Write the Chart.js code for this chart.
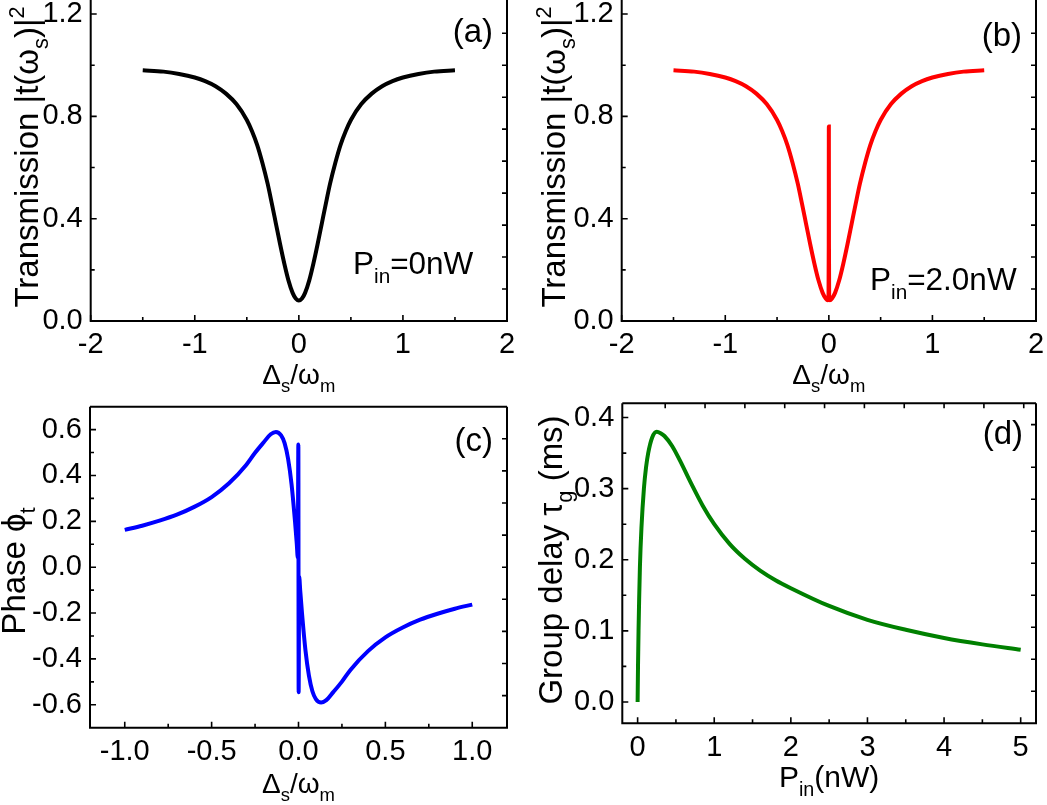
<!DOCTYPE html>
<html>
<head>
<meta charset="utf-8">
<script src="https://cdn.jsdelivr.net/npm/chart.js@4.4.1/dist/chart.umd.min.js"></script>
<style>
  html, body { margin: 0; padding: 0; background: #fff; }
  #wrap { position: relative; width: 1047px; height: 805px; }
  canvas { position: absolute; left: 0; top: 0; }
</style>
</head>
<body>
<div id="wrap">
  <canvas id="panelA" width="1047" height="805"></canvas>
  <canvas id="panelB" width="1047" height="805"></canvas>
  <canvas id="panelC" width="1047" height="805"></canvas>
  <canvas id="panelD" width="1047" height="805"></canvas>
</div>
<script>
const FONT = '"Liberation Sans", Arial, sans-serif';

// (a) transmission, P_in = 0 nW
const detuningA = [-1.5, -1.3, -1.15, -1.0, -0.9, -0.8, -0.7, -0.6, -0.5, -0.45, -0.4, -0.35, -0.3, -0.26, -0.22, -0.18, -0.14, -0.1, -0.06, -0.03, 0,
                   0.03, 0.06, 0.1, 0.14, 0.18, 0.22, 0.26, 0.3, 0.35, 0.4, 0.45, 0.5, 0.6, 0.7, 0.8, 0.9, 1.0, 1.15, 1.3, 1.5];
const transmissionA = [0.980, 0.975, 0.966, 0.952, 0.938, 0.918, 0.889, 0.848, 0.786, 0.742, 0.688, 0.618, 0.537, 0.460, 0.380, 0.300, 0.225, 0.159, 0.110, 0.088, 0.080,
                       0.088, 0.110, 0.159, 0.225, 0.300, 0.380, 0.460, 0.537, 0.618, 0.688, 0.742, 0.786, 0.848, 0.889, 0.918, 0.938, 0.952, 0.966, 0.975, 0.980];

// (b) transmission, P_in = 2.0 nW (narrow transparency window at zero detuning)
const detuningB = [-1.5, -1.3, -1.15, -1.0, -0.9, -0.8, -0.7, -0.6, -0.5, -0.45, -0.4, -0.35, -0.3, -0.26, -0.22, -0.18, -0.14, -0.1, -0.06, -0.03, -0.01, -0.003, -0.001, 0,
                   0.001, 0.003, 0.01, 0.03, 0.06, 0.1, 0.14, 0.18, 0.22, 0.26, 0.3, 0.35, 0.4, 0.45, 0.5, 0.6, 0.7, 0.8, 0.9, 1.0, 1.15, 1.3, 1.5];
const transmissionB = [0.980, 0.975, 0.966, 0.952, 0.938, 0.918, 0.889, 0.848, 0.786, 0.742, 0.688, 0.618, 0.537, 0.460, 0.380, 0.300, 0.225, 0.159, 0.110, 0.088, 0.081, 0.100, 0.300, 0.760,
                       0.300, 0.100, 0.081, 0.088, 0.110, 0.159, 0.225, 0.300, 0.380, 0.460, 0.537, 0.618, 0.688, 0.742, 0.786, 0.848, 0.889, 0.918, 0.938, 0.952, 0.966, 0.975, 0.980];

// (c) phase
const detuningC = [-1.0, -0.9, -0.8, -0.7, -0.6, -0.5, -0.4, -0.3, -0.25, -0.2, -0.16, -0.13, -0.1, -0.08, -0.06, -0.04, -0.02, -0.01, -0.004, -0.0008,
                   0.0008, 0.004, 0.01, 0.02, 0.04, 0.06, 0.08, 0.1, 0.13, 0.16, 0.2, 0.25, 0.3, 0.4, 0.5, 0.6, 0.7, 0.8, 0.9, 1.0];
const phaseC = [0.163, 0.181, 0.203, 0.229, 0.263, 0.306, 0.366, 0.447, 0.499, 0.545, 0.580, 0.590, 0.575, 0.541, 0.473, 0.362, 0.199, 0.103, 0.042, 0.535,
                -0.545, -0.042, -0.103, -0.199, -0.362, -0.473, -0.541, -0.575, -0.590, -0.580, -0.545, -0.499, -0.447, -0.366, -0.306, -0.263, -0.229, -0.203, -0.181, -0.163];

// (d) group delay vs input power
const powerD = [0, 0.005, 0.012, 0.02, 0.03, 0.05, 0.082, 0.11, 0.138, 0.19, 0.25, 0.3, 0.35, 0.45, 0.55, 0.7, 0.85, 1.0, 1.2, 1.4, 1.6, 1.8, 2.0, 2.5, 3.0, 3.5, 4.0, 4.5, 5.0];
const delayD = [0, 0.05, 0.1, 0.145, 0.19, 0.245, 0.3, 0.33, 0.35, 0.372, 0.38, 0.378, 0.374, 0.36, 0.34, 0.307, 0.276, 0.25, 0.2223, 0.2013, 0.1847, 0.1712, 0.160, 0.135, 0.1155, 0.1015, 0.090, 0.081, 0.0734];

// ticks
const xMajorAB = [-2, -1, 0, 1, 2];
const xMinorAB = [-1.5, -0.5, 0.5, 1.5];
const yMajorAB = [0, 0.4, 0.8, 1.2];
const yMinorAB = [0.2, 0.6, 1.0];
const rightTicksAB = [0.125, 0.25, 0.375, 0.5, 0.625, 0.75, 0.875, 1.0, 1.125];

const xMajorC = [-1, -0.5, 0, 0.5, 1];
const xMinorC = [-0.75, -0.25, 0.25, 0.75];
const yMajorC = [-0.6, -0.4, -0.2, 0, 0.2, 0.4, 0.6];
const yMinorC = [-0.5, -0.3, -0.1, 0.1, 0.3, 0.5];
const rightTicksC = [-0.56, -0.42, -0.28, -0.14, 0, 0.14, 0.28, 0.42, 0.56];

const xMajorD = [0, 1, 2, 3, 4, 5];
const xMinorD = [0.5, 1.5, 2.5, 3.5, 4.5];
const yMajorD = [0, 0.1, 0.2, 0.3, 0.4];
const yMinorD = [0.05, 0.15, 0.25, 0.35];
const rightTicksD = [0.015, 0.06, 0.105, 0.15, 0.195, 0.24, 0.285, 0.33, 0.39];
const topTicksD = [0.36, 0.88, 1.40, 1.92, 2.44, 2.96, 3.48, 4.0, 4.52, 5.04];

const Y_BOX = 80, X_BOX = 60;

// text with sub/superscripts, centred on (cx, baseline cy), optionally rotated
function drawRich(ctx, parts, cx, cy, rot, size, align) {
  ctx.save();
  ctx.translate(cx, cy);
  ctx.rotate(rot);
  ctx.fillStyle = '#000';
  ctx.textBaseline = 'alphabetic';
  ctx.textAlign = 'left';
  const small = size * 0.66;
  let total = 0;
  for (const p of parts) {
    ctx.font = (p.sub || p.sup ? small : size) + 'px ' + FONT;
    total += ctx.measureText(p.t).width;
  }
  let x = align === 'left' ? 0 : -total / 2;
  for (const p of parts) {
    ctx.font = (p.sub || p.sup ? small : size) + 'px ' + FONT;
    const dy = p.sub ? size * 0.3 : (p.sup ? -size * 0.42 : 0);
    ctx.fillText(p.t, x, dy);
    x += ctx.measureText(p.t).width;
  }
  ctx.restore();
}

function framePlugin(p) {
  return {
    id: 'frame',
    afterDraw(chart) {
      const { ctx, chartArea: a } = chart;
      const xs = chart.scales.x, ys = chart.scales.y;
      ctx.save();
      ctx.strokeStyle = '#000';
      ctx.lineWidth = 2;
      ctx.beginPath();
      if (p.topLine) { ctx.moveTo(a.left, a.top); ctx.lineTo(a.right, a.top); }
      ctx.moveTo(a.left, a.top); ctx.lineTo(a.left, a.bottom);
      ctx.lineTo(a.right, a.bottom); ctx.lineTo(a.right, a.top);
      ctx.stroke();
      ctx.lineWidth = 1.6;
      ctx.beginPath();
      const tick = (vals, len, fn) => vals.forEach(v => fn(v, len));
      tick(p.xMajor, 6, (v, l) => { const px = xs.getPixelForValue(v); ctx.moveTo(px, a.bottom); ctx.lineTo(px, a.bottom - l); });
      tick(p.xMinor, 4, (v, l) => { const px = xs.getPixelForValue(v); ctx.moveTo(px, a.bottom); ctx.lineTo(px, a.bottom - l); });
      tick(p.yMajor, 6, (v, l) => { const py = ys.getPixelForValue(v); ctx.moveTo(a.left, py); ctx.lineTo(a.left + l, py); });
      tick(p.yMinor, 4, (v, l) => { const py = ys.getPixelForValue(v); ctx.moveTo(a.left, py); ctx.lineTo(a.left + l, py); });
      tick(p.rightTicks, 5, (v, l) => { const py = ys.getPixelForValue(v); ctx.moveTo(a.right, py); ctx.lineTo(a.right - l, py); });
      tick(p.topTicks || [], 5, (v, l) => { const px = xs.getPixelForValue(v); ctx.moveTo(px, a.top); ctx.lineTo(px, a.top + l); });
      ctx.stroke();
      ctx.restore();

      drawRich(ctx, p.xTitle, (a.left + a.right) / 2, p.xTitleY, 0, p.xTitleSize);
      drawRich(ctx, p.yTitle, p.yTitleX, p.yTitleY, -Math.PI / 2, 33);
      ctx.save();
      ctx.font = '33px ' + FONT;
      ctx.fillStyle = '#000';
      ctx.textAlign = 'right';
      ctx.textBaseline = 'alphabetic';
      ctx.fillText(p.tag, p.tagX, p.tagY);
      ctx.restore();
      if (p.note) drawRich(ctx, p.note, p.noteX, p.noteY, 0, 31.5, 'left');
    }
  };
}

function makePanel(id, p) {
  const fmtX = p.xFmt, fmtY = p.yFmt;
  new Chart(document.getElementById(id), {
    type: 'line',
    data: {
      datasets: [{
        data: p.xs.map((x, i) => ({ x: x, y: p.ys[i] })),
        borderColor: p.color,
        borderWidth: 4,
        pointRadius: 0,
        fill: false,
        cubicInterpolationMode: 'monotone'
      }]
    },
    options: {
      responsive: false,
      animation: false,
      devicePixelRatio: 1,
      layout: {
        padding: { left: p.area.l - Y_BOX, top: p.area.t, right: 1047 - p.area.r, bottom: 805 - p.area.b - X_BOX }
      },
      plugins: { legend: { display: false }, tooltip: { enabled: false } },
      scales: {
        x: {
          type: 'linear', min: p.xMin, max: p.xMax,
          grid: { display: false, drawTicks: false },
          border: { display: false },
          afterBuildTicks: s => { s.ticks = p.xMajor.map(v => ({ value: v })); },
          afterFit: s => { s.height = X_BOX; s.paddingLeft = 0; s.paddingRight = 0; },
          ticks: {
            autoSkip: false, maxRotation: 0, padding: 7, color: '#000',
            font: { family: FONT, size: 29 },
            callback: v => fmtX(v)
          }
        },
        y: {
          type: 'linear', min: p.yMin, max: p.yMax,
          grid: { display: false, drawTicks: false },
          border: { display: false },
          afterBuildTicks: s => { s.ticks = p.yMajor.map(v => ({ value: v })); },
          afterFit: s => { s.width = Y_BOX; s.paddingTop = 0; s.paddingBottom = 0; },
          ticks: {
            padding: 8, color: '#000',
            font: { family: FONT, size: 29 },
            callback: v => fmtY(v)
          }
        }
      }
    },
    plugins: [framePlugin(p)]
  });
}

const deltaTitle = [{ t: '\u0394' }, { t: 's', sub: true }, { t: '/\u03c9' }, { t: 'm', sub: true }];
const transTitle = [{ t: 'Transmission |t(\u03c9' }, { t: 's', sub: true }, { t: ')|' }, { t: '2', sup: true }];

makePanel('panelA', {
  xs: detuningA, ys: transmissionA, color: '#000000',
  area: { l: 90.7, t: 0, r: 507, b: 321 },
  xMin: -2, xMax: 2, yMin: 0, yMax: 1.255,
  xMajor: xMajorAB, xMinor: xMinorAB, yMajor: yMajorAB, yMinor: yMinorAB, rightTicks: rightTicksAB,
  xFmt: v => v.toFixed(0), yFmt: v => v.toFixed(1),
  xTitle: deltaTitle, xTitleY: 384, xTitleSize: 28,
  yTitle: transTitle, yTitleX: 38, yTitleY: 157,
  tag: '(a)', tagX: 493, tagY: 42,
  note: [{ t: 'P' }, { t: 'in', sub: true }, { t: '=0nW' }], noteX: 353, noteY: 274
});

makePanel('panelB', {
  xs: detuningB, ys: transmissionB, color: '#ff0000',
  area: { l: 621.7, t: 0, r: 1036, b: 321 },
  xMin: -2, xMax: 2, yMin: 0, yMax: 1.255,
  xMajor: xMajorAB, xMinor: xMinorAB, yMajor: yMajorAB, yMinor: yMinorAB, rightTicks: rightTicksAB,
  xFmt: v => v.toFixed(0), yFmt: v => v.toFixed(1),
  xTitle: deltaTitle, xTitleY: 384, xTitleSize: 28,
  yTitle: transTitle, yTitleX: 565, yTitleY: 157,
  tag: '(b)', tagX: 1022, tagY: 46,
  note: [{ t: 'P' }, { t: 'in', sub: true }, { t: '=2.0nW' }], noteX: 870, noteY: 290
});

makePanel('panelC', {
  xs: detuningC, ys: phaseC, color: '#0000ff',
  area: { l: 90, t: 406.7, r: 507, b: 727.7 },
  xMin: -1.2, xMax: 1.2, yMin: -0.7, yMax: 0.7,
  xMajor: xMajorC, xMinor: xMinorC, yMajor: yMajorC, yMinor: yMinorC, rightTicks: rightTicksC,
  topLine: true,
  xFmt: v => v.toFixed(1), yFmt: v => v.toFixed(1),
  xTitle: deltaTitle, xTitleY: 793, xTitleSize: 28,
  yTitle: [{ t: 'Phase \u03d5' }, { t: 't', sub: true }], yTitleX: 25, yTitleY: 571,
  tag: '(c)', tagX: 493, tagY: 451
});

makePanel('panelD', {
  xs: powerD, ys: delayD, color: '#008000',
  area: { l: 622.3, t: 403.3, r: 1036, b: 723.3 },
  xMin: -0.2, xMax: 5.2, yMin: -0.03, yMax: 0.42,
  xMajor: xMajorD, xMinor: xMinorD, yMajor: yMajorD, yMinor: yMinorD, rightTicks: rightTicksD, topTicks: topTicksD,
  topLine: true,
  xFmt: v => v.toFixed(0), yFmt: v => v.toFixed(1),
  xTitle: [{ t: 'P' }, { t: 'in', sub: true }, { t: '(nW)' }], xTitleY: 787, xTitleSize: 30,
  yTitle: [{ t: 'Group delay \u03c4' }, { t: 'g', sub: true }, { t: ' (ms)' }], yTitleX: 562, yTitleY: 560,
  tag: '(d)', tagX: 1023, tagY: 444
});
</script>
</body>
</html>
